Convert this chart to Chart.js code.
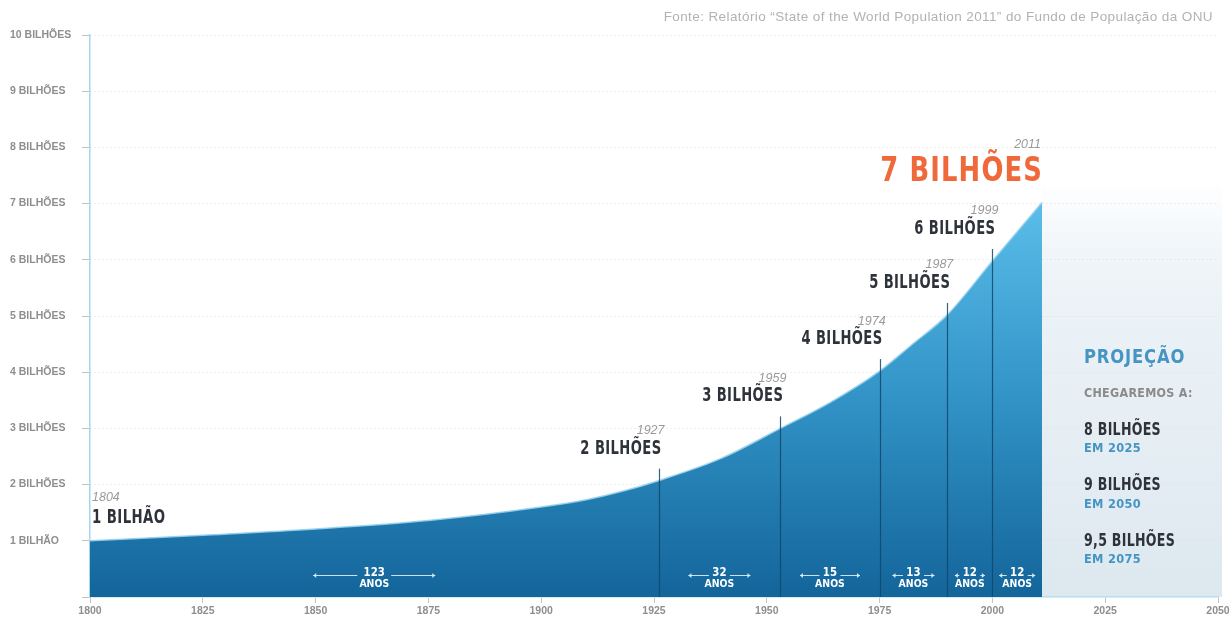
<!DOCTYPE html>
<html>
<head>
<meta charset="utf-8">
<script src="https://cdn.jsdelivr.net/npm/chart.js@4.4.1/dist/chart.umd.min.js"></script>
<style>
  html, body { margin: 0; padding: 0; background: #fff; }
  #wrap { width: 1231px; height: 620px; position: relative; }
</style>
</head>
<body>
<div id="wrap"><canvas id="pop-chart" width="1231" height="620"></canvas></div>
<script>
"use strict";

// world population curve as drawn in the picture (year, billions)
const years = [1800, 1825, 1850, 1875, 1900, 1910, 1918, 1926, 1940, 1953, 1964, 1975, 1982, 1990, 2000, 2011];
const population = [1.0, 1.1, 1.21, 1.36, 1.6, 1.73, 1.88, 2.07, 2.47, 3.0, 3.46, 4.02, 4.48, 5.02, 5.98, 7.02];

// axis tick labels
const xTicks = [1800, 1825, 1850, 1875, 1900, 1925, 1950, 1975, 2000, 2025, 2050];
const yTickLabels = ["", "1 BILHÃO", "2 BILHÕES", "3 BILHÕES", "4 BILHÕES", "5 BILHÕES",
  "6 BILHÕES", "7 BILHÕES", "8 BILHÕES", "9 BILHÕES", "10 BILHÕES"];

// milestones: text year, label, and the year where the picture puts the marker line
const milestoneYears = ["1804", "1927", "1959", "1974", "1987", "1999", "2011"];
const milestoneLabels = ["1 BILHÃO", "2 BILHÕES", "3 BILHÕES", "4 BILHÕES", "5 BILHÕES", "6 BILHÕES", "7 BILHÕES"];
const markerAt = [1800, 1926, 1953, 1975, 1990, 2000, 2011];

// years between milestones
const gapYears = ["123", "32", "15", "13", "12", "12"];

// projection box
const projectionValues = ["8 BILHÕES", "9 BILHÕES", "9,5 BILHÕES"];
const projectionYears = ["EM 2025", "EM 2050", "EM 2075"];

const sourceText = "Fonte: Relatório \u201cState of the World Population 2011\u201d do Fundo de População da ONU";

// no condensed face is installed, so bold labels are squeezed horizontally
const BOLD = '"DejaVu Sans", sans-serif';
const SANS = '"Liberation Sans", Arial, sans-serif';
const arrowHalf = [61, 31, 30, 21, 15, 18];

function txt(ctx, s, x, y, font, color, align, spacing, sx) {
  ctx.save();
  ctx.font = font;
  ctx.fillStyle = color;
  ctx.textAlign = align || "left";
  ctx.textBaseline = "middle";
  ctx.letterSpacing = (spacing || 0) + "px";
  ctx.translate(x, y);
  ctx.scale(sx || 1, 1);
  ctx.fillText(s, 0, 0);
  ctx.restore();
}

function valueAt(year) {
  return population[years.indexOf(year)];
}

// light panel behind the projection text, drawn before the grid
const panelPlugin = {
  id: "panel",
  beforeDraw(chart) {
    const { ctx, chartArea, scales } = chart;
    const x0 = scales.x.getPixelForValue(2011);
    const top = scales.y.getPixelForValue(7.4);
    const g = ctx.createLinearGradient(0, top, 0, chartArea.bottom);
    g.addColorStop(0, "rgba(238,244,248,0)");
    g.addColorStop(0.2, "#eef4f8");
    g.addColorStop(1, "#dde8ef");
    ctx.save();
    ctx.fillStyle = g;
    ctx.fillRect(x0, top, chartArea.right + 4 - x0, chartArea.bottom - top);
    ctx.restore();
  }
};

const labelsPlugin = {
  id: "labels",
  afterDatasetsDraw(chart) {
    const { ctx, chartArea, scales } = chart;
    const xs = scales.x, ys = scales.y;
    ctx.save();

    // marker lines
    ctx.strokeStyle = "rgba(20,70,105,0.85)";
    ctx.lineWidth = 1.2;
    for (let i = 1; i < markerAt.length - 1; i++) {
      const x = Math.round(xs.getPixelForValue(markerAt[i])) + 0.5;
      const y = ys.getPixelForValue(valueAt(markerAt[i])) - 12;
      ctx.beginPath();
      ctx.moveTo(x, y);
      ctx.lineTo(x, chartArea.bottom);
      ctx.stroke();
    }

    // milestone labels
    for (let i = 0; i < milestoneLabels.length; i++) {
      const x = xs.getPixelForValue(markerAt[i]);
      const y = ys.getPixelForValue(valueAt(markerAt[i]));
      if (i === 0) {
        txt(ctx, milestoneYears[i], x + 2, y - 43, "italic 12.5px " + SANS, "#9a9a9a", "left");
        txt(ctx, milestoneLabels[i], x + 2, y - 23, "bold 19px " + BOLD, "#2e323a", "left", 0.6, 0.7);
      } else if (i === milestoneLabels.length - 1) {
        txt(ctx, milestoneYears[i], x - 1, y - 58, "italic 12.5px " + SANS, "#9a9a9a", "right");
        txt(ctx, milestoneLabels[i], x + 1, y - 30, "bold 34px " + BOLD, "#f0693a", "right", 1.5, 0.76);
      } else {
        txt(ctx, milestoneYears[i], x + 6, y - 50, "italic 12.5px " + SANS, "#9a9a9a", "right");
        txt(ctx, milestoneLabels[i], x + 3, y - 32, "bold 19px " + BOLD, "#2e323a", "right", 0.6, 0.69);
      }
    }

    // gap arrows at the bottom
    const arrowColor = "rgba(225,240,250,0.9)";
    ctx.lineWidth = 1;
    for (let i = 0; i < gapYears.length; i++) {
      const a = xs.getPixelForValue(markerAt[i]);
      const b = xs.getPixelForValue(markerAt[i + 1]);
      const c = (a + b) / 2;
      const half = arrowHalf[i];
      ctx.font = "bold 12px " + BOLD;
      const inner = i === 0 ? 17 : ctx.measureText(gapYears[i]).width * 0.45 + 3;
      const ay = 575.5;
      ctx.strokeStyle = arrowColor;
      ctx.fillStyle = arrowColor;
      [[c - inner, c - half], [c + inner, c + half]].forEach(([p, q]) => {
        ctx.beginPath();
        ctx.moveTo(p, ay);
        ctx.lineTo(q, ay);
        ctx.stroke();
        const d = q > p ? -1 : 1;
        ctx.beginPath();
        ctx.moveTo(q, ay);
        ctx.lineTo(q + d * 3, ay - 2.5);
        ctx.lineTo(q + d * 3, ay + 2.5);
        ctx.closePath();
        ctx.fill();
      });
      txt(ctx, gapYears[i], c, 573, "bold 12px " + BOLD, "#ffffff", "center", 0, 0.85);
      txt(ctx, "ANOS", c, 584, "bold 11px " + BOLD, "#ffffff", "center", 0, 0.85);
    }

    // projection text
    const px = xs.getPixelForValue(2011) + 42;
    txt(ctx, "PROJEÇÃO", px, 358, "bold 20px " + BOLD, "#4594c3", "left", 1, 0.82);
    txt(ctx, "CHEGAREMOS A:", px, 394, "bold 12px " + BOLD, "#8a8a8a", "left", 0.3, 0.93);
    for (let i = 0; i < projectionValues.length; i++) {
      const y = 430 + i * 55.5;
      txt(ctx, projectionValues[i], px, y, "bold 18px " + BOLD, "#2e323a", "left", 0.4, 0.7);
      txt(ctx, projectionYears[i], px, y + 19, "bold 12px " + BOLD, "#4594c3", "left", 0.3, 0.95);
    }

    // source
    txt(ctx, sourceText, 1213, 17, "13.5px " + SANS, "#b2b2b2", "right", 0.4);
    ctx.restore();
  }
};

function buildPoints() {
  return years.map((y, i) => ({ x: y, y: population[i] }));
}

function areaFill(context) {
  const { chart } = context;
  const { chartArea, scales } = chart;
  if (!chartArea) return "#2a8cc0";
  const g = chart.ctx.createLinearGradient(0, scales.y.getPixelForValue(7), 0, chartArea.bottom);
  g.addColorStop(0, "#5bbde9");
  g.addColorStop(0.45, "#3597ca");
  g.addColorStop(1, "#13659a");
  return g;
}

function renderChart(canvasId) {
  const ctx = document.getElementById(canvasId).getContext("2d");
  return new Chart(ctx, {
    type: "line",
    data: {
      datasets: [{
        label: "População mundial",
        data: buildPoints(),
        fill: "origin",
        backgroundColor: areaFill,
        borderColor: "rgba(150,210,238,0.9)",
        borderWidth: 1.5,
        pointRadius: 0,
        cubicInterpolationMode: "monotone",
      }],
    },
    options: {
      responsive: false,
      animation: false,
      layout: { padding: { left: 10, top: 35, right: 13, bottom: 0 } },
      plugins: { legend: { display: false }, tooltip: { enabled: false } },
      scales: {
        x: {
          type: "linear",
          min: 1800,
          max: 2050,
          afterBuildTicks: (scale) => { scale.ticks = xTicks.map((v) => ({ value: v })); },
          afterFit: (scale) => { scale.height = 23; scale.paddingLeft = 0; scale.paddingRight = 0; },
          ticks: {
            callback: (v) => String(v),
            color: "#8e8e8e",
            padding: 2,
            maxRotation: 0,
            autoSkip: false,
            font: { family: SANS, size: 10.5, weight: "bold" },
          },
          grid: { drawOnChartArea: false, tickLength: 6, tickColor: "#c4c4c4" },
          border: { color: "#b7dff1", width: 1.5 },
        },
        y: {
          min: 0,
          max: 10,
          afterFit: (scale) => { scale.width = 80; scale.paddingTop = 0; scale.paddingBottom = 0; },
          ticks: {
            stepSize: 1,
            crossAlign: "far",
            padding: 12,
            callback: (v) => yTickLabels[v],
            color: "#8e8e8e",
            font: { family: SANS, size: 10.5, weight: "bold" },
          },
          grid: { color: "#dedede", tickColor: "#c4c4c4", tickLength: 8, lineWidth: 1 },
          border: { color: "#a6d6ee", width: 1.5, dash: [1, 3] },
        },
      },
    },
    plugins: [panelPlugin, labelsPlugin],
  });
}

const popChart = renderChart("pop-chart");
</script>
</body>
</html>
